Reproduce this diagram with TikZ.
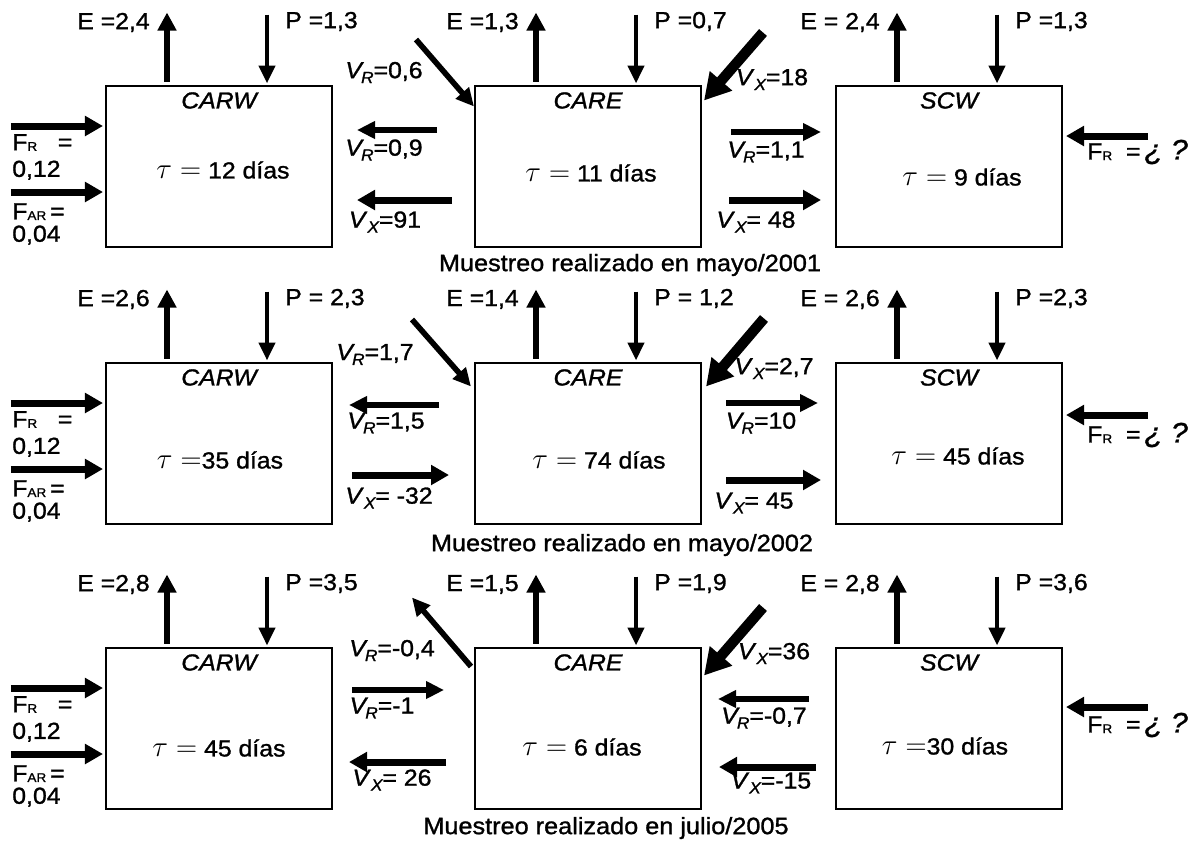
\documentclass[tikz,border=0pt]{standalone}
\usepackage{fontspec}
\setmainfont{Liberation Sans}[FakeStretch=1.07,UprightFeatures={FakeBold=1.2},ItalicFeatures={FakeBold=1.2}]
\usepackage{tikz}
\usetikzlibrary{arrows.meta,positioning,calc}

\newcommand{\VR}{\textit{V}\kern-0.12em\raisebox{-3.5pt}{\fontsize{11.5}{11.5}\selectfont\itshape R}}
\newcommand{\VX}{\textit{V}\raisebox{-3.5pt}{\fontsize{11.5}{11.5}\selectfont\itshape X}}
\newcommand{\FR}{F\raisebox{-0.5pt}{\fontsize{9}{9}\selectfont R}}
\newcommand{\FAR}{F\raisebox{-0.5pt}{\fontsize{9}{9}\selectfont AR}}
\newcommand{\tauq}{{\fontsize{20}{20}\selectfont$\tau=$}}

\begin{document}
\begin{tikzpicture}[x=0.25mm,y=-0.25mm,
    box/.style={draw,line width=0.5mm,minimum width=56.5mm,minimum height=40.25mm,inner sep=0pt},
    lbl/.style={font=\fontsize{16.5}{19}\selectfont,inner sep=0pt},
    ttl/.style={font=\fontsize{16.5}{19}\selectfont\itshape,inner sep=0pt},
    muestreo/.style={font=\fontsize{16.8}{19}\selectfont,inner sep=0pt},
    arr/.style={line width=1.4mm,-{Triangle[length=4.5mm,width=4.2mm]}},
    arrE/.style={line width=1.5mm,-{Triangle[length=4.5mm,width=4.5mm]}},
    arrP/.style={line width=1.2mm,-{Triangle[length=4.5mm,width=4mm]}},
    arrF/.style={line width=1.75mm,-{Triangle[length=4.5mm,width=4.8mm]}},
    arrH/.style={line width=2.6mm,-{Triangle[length=6.5mm,width=7mm]}}]
  \useasboundingbox (0,0) rectangle (1198,844);
  % compartimentos
  \foreach \r/\y in {1/166,2/443,3/728}{
    \node[box] (carw\r) at (219,\y) {};
    \node[box] (care\r) at (588,\y) {};
    \node[box] (scw\r) at (949,\y) {};
    \foreach \b/\t in {carw/CARW,care/CARE,scw/SCW}
      \node[ttl] (\b\r-t) at ([shift={(0,16)}]\b\r.north) {\t};
  }
  \foreach \b/\dx/\dy/\t in {carw1/4/4/{\ 12 días},care1/3/7/{\ 11 días},scw1/13/11/{\ 9 días},
      carw2/1/17/{35 días},care2/11/17/{\ 74 días},scw2/9/13/{\ 45 días},
      carw3/0/20/{\ 45 días},care3/-6/19/{\ 6 días},scw3/-4/18/{30 días}}
    \node[lbl] (\b-tau) at ([shift={(\dx,\dy)}]\b.center) {\tauq\t};
  % evaporacion y precipitacion
  \foreach \b/\e/\p in {carw1/{E =2,4}/{P =1,3},care1/{E =1,3}/{P =0,7},scw1/{E = 2,4}/{P =1,3},
      carw2/{E =2,6}/{P = 2,3},care2/{E =1,4}/{P = 1,2},scw2/{E = 2,6}/{P =2,3},
      carw3/{E =2,8}/{P =3,5},care3/{E =1,5}/{P =1,9},scw3/{E = 2,8}/{P =3,6}}{
    \draw[arrE] ([shift={(62,-3)}]\b.north west) -- ([shift={(62,-72)}]\b.north west);
    \draw[arrP] ([shift={(162,-70)}]\b.north west) -- ([shift={(162,-1)}]\b.north west);
    \node[lbl,anchor=east] (\b-e) at ([shift={(45,-62)}]\b.north west) {\e};
    \node[lbl,anchor=west] (\b-p) at ([shift={(180,-63)}]\b.north west) {\p};
  }
  % aportes laterales
  \foreach \r/\a/\l in {1/-30/-14,2/-28/-8,3/-21/-3}{
    \draw[arrF] ([shift={(-94,-40)}]carw\r.west) -- ([shift={(-2,-40)}]carw\r.west);
    \draw[arrF] ([shift={(-94,26)}]carw\r.west) -- ([shift={(-2,26)}]carw\r.west);
    \node[lbl,anchor=west,align=left] (fr\r) at ([shift={(-93,-9)}]carw\r.west) {\FR\ \ \ =\\0,12};
    \node[lbl,anchor=west,align=left] (far\r) at ([shift={(-93,58)}]carw\r.west) {\FAR\,=\\[-3pt]0,04};
    \draw[arrF] ([shift={(85,\a)}]scw\r.east) -- ([shift={(3,\a)}]scw\r.east);
    \node[lbl,anchor=west] (fs\r) at ([shift={(24,\l)}]scw\r.east)
      {\FR\ \ =\,{\itshape\fontsize{20}{20}\selectfont ¿ ?}};
  }
  % mayo 2001
  \draw[arr] ([shift={(-58,-45)}]care1.north west) -- ([shift={(0,22)}]care1.north west);
  \draw[arr] ([shift={(-37,-36)}]care1.west) -- ([shift={(-117,-36)}]care1.west);
  \draw[arrF] ([shift={(-22,34)}]care1.west) -- ([shift={(-117,34)}]care1.west);
  \draw[arrH] ([shift={(61,-52)}]care1.north east) -- ([shift={(2,16)}]care1.north east);
  \draw[arr] ([shift={(29,-34)}]care1.east) -- ([shift={(119,-34)}]care1.east);
  \draw[arrF] ([shift={(27,34)}]care1.east) -- ([shift={(119,34)}]care1.east);
  \node[lbl] (vr1a) at ([shift={(-90,-12)}]care1.north west) {\VR=0,6};
  \node[lbl] (vr1b) at ([shift={(-90,-16)}]care1.west) {\VR=0,9};
  \node[lbl] (vx1a) at ([shift={(-89,56)}]care1.west) {\VX=91};
  \node[lbl] (vx1b) at ([shift={(70,-5)}]care1.north east) {\VX=18};
  \node[lbl] (vr1c) at ([shift={(64,-14)}]care1.east) {\VR=1,1};
  \node[lbl] (vx1c) at ([shift={(54,56)}]care1.east) {\VX= 48};
  \node[muestreo] (m1) at (630,265) {Muestreo realizado en mayo/2001};
  % mayo 2002
  \draw[arr] ([shift={(-62,-42)}]care2.north west) -- ([shift={(-3,25)}]care2.north west);
  \draw[arr] ([shift={(-35,-38)}]care2.west) -- ([shift={(-125,-38)}]care2.west);
  \draw[arrF] ([shift={(-122,32)}]care2.west) -- ([shift={(-25,32)}]care2.west);
  \draw[arrH] ([shift={(62,-43)}]care2.north east) -- ([shift={(4,25)}]care2.north east);
  \draw[arr] ([shift={(24,-40)}]care2.east) -- ([shift={(116,-40)}]care2.east);
  \draw[arrF] ([shift={(24,37)}]care2.east) -- ([shift={(119,37)}]care2.east);
  \node[lbl] (vr2a) at ([shift={(-99,-7)}]care2.north west) {\VR=1,7};
  \node[lbl] (vr2b) at ([shift={(-88,-20)}]care2.west) {\VR=1,5};
  \node[lbl] (vx2a) at ([shift={(-85,55)}]care2.west) {\VX= -32};
  \node[lbl] (vx2b) at ([shift={(72,7)}]care2.north east) {\VX=2,7};
  \node[lbl] (vr2c) at ([shift={(59,-20)}]care2.east) {\VR=10};
  \node[lbl] (vx2c) at ([shift={(52,60)}]care2.east) {\VX= 45};
  \node[muestreo] (m2) at (622,545) {Muestreo realizado en mayo/2002};
  % julio 2005
  \draw[arr] ([shift={(-3,20)}]care3.north west) -- ([shift={(-62,-49)}]care3.north west);
  \draw[arr] ([shift={(-122,-38)}]care3.west) -- ([shift={(-30,-38)}]care3.west);
  \draw[arrF] ([shift={(-28,34)}]care3.west) -- ([shift={(-125,34)}]care3.west);
  \draw[arrH] ([shift={(61,-39)}]care3.north east) -- ([shift={(2,29)}]care3.north east);
  \draw[arr] ([shift={(107,-29)}]care3.east) -- ([shift={(16,-29)}]care3.east);
  \draw[arrF] ([shift={(114,39)}]care3.east) -- ([shift={(17,39)}]care3.east);
  \node[lbl] (vr3a) at ([shift={(-82,4)}]care3.north west) {\VR=-0,4};
  \node[lbl] (vr3b) at ([shift={(-92,-20)}]care3.west) {\VR=-1};
  \node[lbl] (vx3a) at ([shift={(-82,52)}]care3.west) {\VX= 26};
  \node[lbl] (vx3b) at ([shift={(72,7)}]care3.north east) {\VX=36};
  \node[lbl] (vr3c) at ([shift={(62,-10)}]care3.east) {\VR=-0,7};
  \node[lbl] (vx3c) at ([shift={(69,55)}]care3.east) {\VX=-15};
  \node[muestreo] (m3) at (606,828) {Muestreo realizado en julio/2005};
\end{tikzpicture}
\end{document}
